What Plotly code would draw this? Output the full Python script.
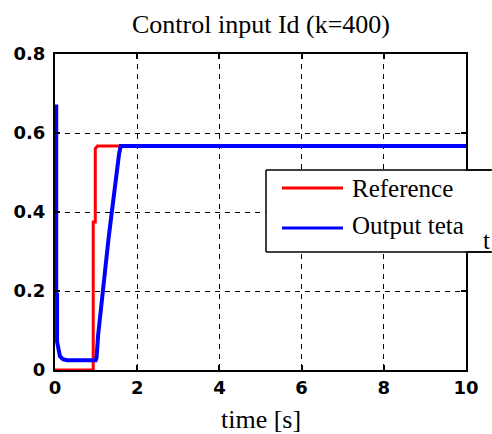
import plotly.graph_objects as go

# Data
ref_t = [0, 0.93, 0.93, 0.98, 0.98, 1.03, 10]
ref_y = [0, 0, 0.375, 0.375, 0.56, 0.567, 0.567]

out_t = [0, 0.03, 0.03, 0.05, 0.05, 0.08, 0.12, 0.2, 0.3, 0.99, 1.01, 1.05, 1.175, 1.30, 1.38, 1.48, 1.56, 1.6, 10]
out_y = [0.667, 0.667, 0.19, 0.19, 0.072, 0.05, 0.035, 0.027, 0.025, 0.025, 0.03, 0.089, 0.22, 0.33, 0.398, 0.489, 0.548, 0.567, 0.567]

x_ticks = [0, 2, 4, 6, 8, 10]
y_ticks = [0, 0.2, 0.4, 0.6, 0.8]
y_tick_text = ["0", "0.2", "0.4", "0.6", "0.8"]

title_text = "Control input Id (k=400)"
x_label = "time [s]"
legend_names = ["Reference", "Output teta"]
legend_colors = ["#ff0000", "#0000ff"]

fig = go.Figure()
fig.add_trace(go.Scatter(x=ref_t, y=ref_y, mode="lines", line=dict(color=legend_colors[0], width=3), showlegend=False))
fig.add_trace(go.Scatter(x=out_t, y=out_y, mode="lines", line=dict(color=legend_colors[1], width=4), showlegend=False))

serif = "Liberation Serif, Times New Roman, serif"
tickfont = dict(family="DejaVu Sans", size=18, color="black", weight="bold")

FW, FH = 492, 434
L, R, T, B = 55, 466, 54, 370
PW = FW - L          # paper width (right margin 0)
H = B - T

def px(x):
    return (x - L) / PW

def py(y):
    return (B - y) / H

axis_common = dict(
    showline=True, linecolor="black", linewidth=2, mirror="ticks",
    ticks="inside", ticklen=5, tickwidth=1.5, tickcolor="black",
    showgrid=True, gridcolor="black", gridwidth=1.2, griddash="5px,5px",
    zeroline=False, tickfont=tickfont, automargin=False,
)

fig.update_layout(
    width=FW, height=FH,
    margin=dict(l=L, r=0, t=T, b=FH - B, autoexpand=False),
    paper_bgcolor="white", plot_bgcolor="white",
    xaxis=dict(range=[0, 10], domain=[0, px(R)], tickvals=x_ticks,
               ticktext=[str(v) for v in x_ticks], **axis_common),
    yaxis=dict(range=[0, 0.8], tickvals=y_ticks, ticktext=y_tick_text, ticklabelstandoff=4, **axis_common),
    showlegend=False,
)

box_l, box_t, box_b = 266, 170, 252

def edge(x_from, x_to, y_from, y_to, color, width):
    # arrow-only annotation used as a plain line (head at x_to,y_to)
    return dict(text="", x=px(x_to), y=py(y_to), xref="paper", yref="paper",
                showarrow=True, arrowhead=0, arrowwidth=width, arrowcolor=color,
                ax=x_from - x_to, ay=y_from - y_to, axref="pixel", ayref="pixel",
                standoff=0, startstandoff=0)

annotations = [
    # cover the plot's right frame inside the legend, extend the box edges to the page edge
    edge(R, R, box_t + 1.5, box_b - 1.5, "white", 4),
    edge(R - 2, FW, box_t, box_t, "black", 1.5),
    edge(R - 2, FW, box_b, box_b, "black", 1.5),
    dict(text=title_text, x=px((L + R) / 2), y=py(25), xref="paper", yref="paper", xanchor="center", yanchor="middle",
         showarrow=False, font=dict(family=serif, size=26, color="black")),
    dict(text=x_label, x=px((L + R) / 2), y=py(419), xref="paper", yref="paper", xanchor="center", yanchor="middle",
         showarrow=False, font=dict(family=serif, size=26, color="black")),
    dict(text=legend_names[0], x=px(350), y=py(188), xref="paper", yref="paper", xanchor="left", yanchor="middle",
         showarrow=False, font=dict(family=serif, size=25, color="black")),
    dict(text=legend_names[1], x=px(350), y=py(225), xref="paper", yref="paper", xanchor="left", yanchor="middle",
         showarrow=False, font=dict(family=serif, size=25, color="black")),
    dict(text="t", x=px(481), y=py(240), xref="paper", yref="paper", xanchor="left", yanchor="middle",
         showarrow=False, font=dict(family=serif, size=25, color="black")),
]
fig.update_layout(annotations=annotations)

bx0, bx1, by0, by1 = px(box_l), 1.0, py(box_b), py(box_t)
border = dict(color="black", width=1.5)
shapes = [
    dict(type="rect", xref="paper", yref="paper", x0=bx0, x1=bx1, y0=by0, y1=by1,
         fillcolor="white", line=dict(width=0), layer="above"),
    dict(type="line", xref="paper", yref="paper", x0=bx0, x1=bx1, y0=by1, y1=by1, line=border, layer="above"),
    dict(type="line", xref="paper", yref="paper", x0=bx0, x1=bx1, y0=by0, y1=by0, line=border, layer="above"),
    dict(type="line", xref="paper", yref="paper", x0=bx0, x1=bx0, y0=by0, y1=by1, line=border, layer="above"),
    dict(type="line", xref="paper", yref="paper", x0=px(282), x1=px(343), y0=py(188), y1=py(188),
         line=dict(color=legend_colors[0], width=3), layer="above"),
    dict(type="line", xref="paper", yref="paper", x0=px(282), x1=px(343), y0=py(228), y1=py(228),
         line=dict(color=legend_colors[1], width=3), layer="above"),
]
fig.update_layout(shapes=shapes)

fig.write_html("out.html")
